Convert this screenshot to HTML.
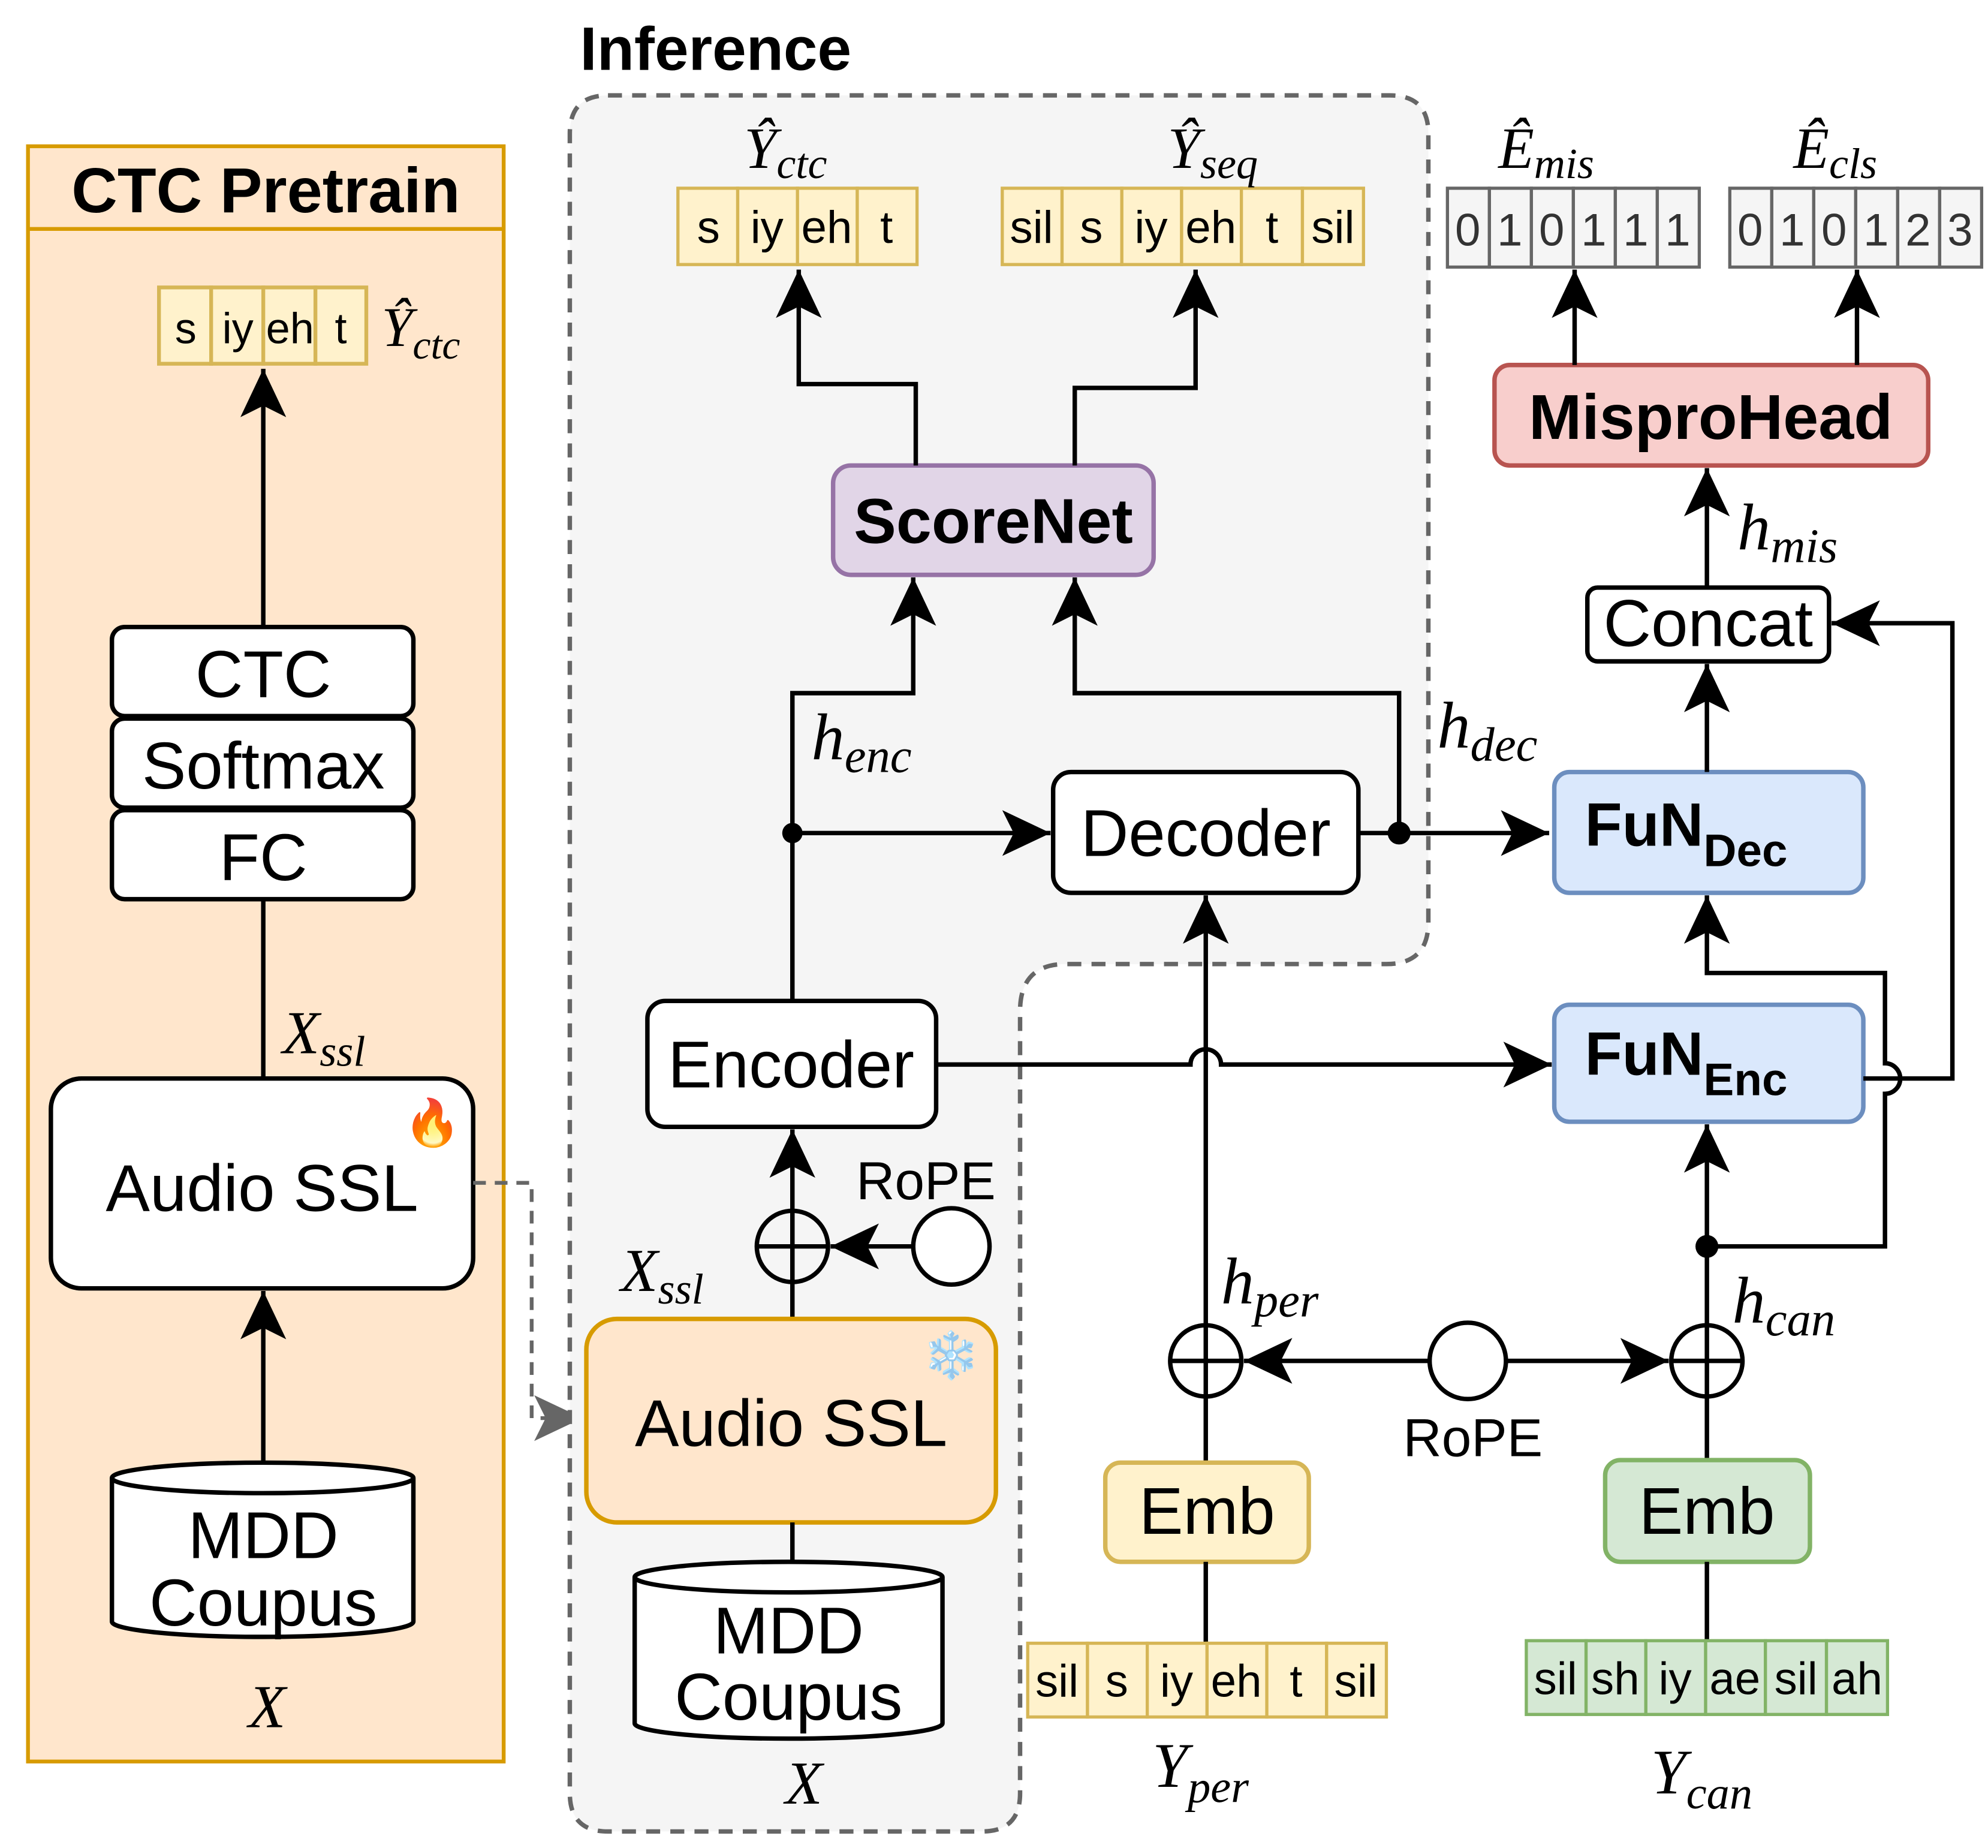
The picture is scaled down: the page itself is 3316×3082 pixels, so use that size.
<!DOCTYPE html>
<html><head><meta charset="utf-8"><style>
html,body{margin:0;padding:0;background:#fff}
svg{display:block}
text{font-family:"Liberation Sans",sans-serif}
.m{font-family:"Liberation Serif",serif;font-style:italic}
</style></head><body>
<svg width="3316" height="3082" viewBox="0 0 1563 1453" preserveAspectRatio="none" xmlns="http://www.w3.org/2000/svg">
<defs>
<marker id="a" markerUnits="userSpaceOnUse" markerWidth="44" markerHeight="44" refX="38" refY="18" orient="auto">
<path d="M0,0 L38,18 L0,36 L9,18 Z" fill="#000"/>
</marker>
<marker id="g" markerUnits="userSpaceOnUse" markerWidth="44" markerHeight="44" refX="38" refY="18" orient="auto">
<path d="M0,0 L38,18 L0,36 L9,18 Z" fill="#666"/>
</marker>
</defs>
<rect width="1563" height="1453" fill="#fff"/>

<!-- CTC Pretrain -->
<rect x="22" y="115" width="374" height="1270" fill="#ffe6cc" stroke="#d79b00" stroke-width="3"/>
<line x1="22" y1="180" x2="396" y2="180" stroke="#d79b00" stroke-width="3"/>
<text x="209" y="167" font-size="50" font-weight="bold" text-anchor="middle">CTC Pretrain</text>
<g stroke="#d6b656" stroke-width="3" fill="#fff2cc">
<rect x="125" y="226" width="41" height="60"/><rect x="166" y="226" width="41" height="60"/><rect x="207" y="226" width="41" height="60"/><rect x="248" y="226" width="40" height="60"/>
</g>
<g font-size="34" text-anchor="middle"><text x="146" y="270">s</text><text x="187" y="270">iy</text><text x="228" y="270">eh</text><text x="268" y="270">t</text></g>
<text x="300" y="272" class="m" font-size="44">Ŷ<tspan dy="10" font-size="32">ctc</tspan></text>
<line x1="207" y1="493" x2="207" y2="290" stroke="#000" stroke-width="3.5" marker-end="url(#a)"/>
<g stroke="#000" stroke-width="3.5" fill="#fff">
<rect x="88" y="493" width="237" height="70" rx="10"/><rect x="88" y="565" width="237" height="70" rx="10"/><rect x="88" y="637" width="237" height="70" rx="10"/>
</g>
<g font-size="52" text-anchor="middle"><text x="207" y="548">CTC</text><text x="207" y="620">Softmax</text><text x="207" y="692">FC</text></g>
<line x1="207" y1="707" x2="207" y2="848" stroke="#000" stroke-width="3.5"/>
<text x="222" y="828" class="m" font-size="48">X<tspan dy="10" font-size="34">ssl</tspan></text>
<rect x="40" y="848" width="332" height="165" rx="24" fill="#fff" stroke="#000" stroke-width="3.5"/>
<text x="206" y="952" font-size="52" text-anchor="middle">Audio SSL</text>
<text x="340" y="895" font-size="36" text-anchor="middle">🔥</text>
<line x1="207" y1="1150" x2="207" y2="1015" stroke="#000" stroke-width="3.5" marker-end="url(#a)"/>
<path d="M88,1162 L88,1275 A118.5,12 0 0 0 325,1275 L325,1162 A118.5,12 0 0 0 88,1162 A118.5,12 0 0 0 325,1162" fill="#fff" stroke="#000" stroke-width="3.5"/>
<g font-size="52" text-anchor="middle"><text x="207" y="1225">MDD</text><text x="207" y="1278">Coupus</text></g>
<text x="210" y="1358" class="m" font-size="48" text-anchor="middle">X</text>
<path d="M372,930 L418,930 L418,1115 L458,1115" fill="none" stroke="#666" stroke-width="3" stroke-dasharray="10,7" marker-end="url(#g)"/>

<!-- Inference region -->
<path d="M478,75 L1093,75 Q1123,75 1123,105 L1123,725 Q1123,758 1090,758 L838,758 Q802,758 802,795 L802,1410 Q802,1440 772,1440 L478,1440 Q448,1440 448,1410 L448,105 Q448,75 478,75 Z" fill="#f5f5f5" stroke="#666" stroke-width="3.5" stroke-dasharray="11,8"/>
<text x="456" y="55" font-size="48" font-weight="bold">Inference</text>

<text x="585" y="132" class="m" font-size="46">Ŷ<tspan dy="8" font-size="34">ctc</tspan></text>
<g stroke="#d6b656" stroke-width="2.5" fill="#fff2cc">
<rect x="533" y="148" width="47" height="60"/><rect x="580" y="148" width="47" height="60"/><rect x="627" y="148" width="47" height="60"/><rect x="674" y="148" width="47" height="60"/>
<rect x="788" y="148" width="47" height="60"/><rect x="835" y="148" width="47" height="60"/><rect x="882" y="148" width="47" height="60"/><rect x="929" y="148" width="47" height="60"/><rect x="976" y="148" width="48" height="60"/><rect x="1024" y="148" width="48" height="60"/>
</g>
<g font-size="36" text-anchor="middle">
<text x="557" y="191">s</text><text x="603" y="191">iy</text><text x="650" y="191">eh</text><text x="697" y="191">t</text>
<text x="811" y="191">sil</text><text x="858" y="191">s</text><text x="905" y="191">iy</text><text x="952" y="191">eh</text><text x="1000" y="191">t</text><text x="1048" y="191">sil</text>
</g>
<text x="918" y="132" class="m" font-size="46">Ŷ<tspan dy="8" font-size="34">seq</tspan></text>

<rect x="655" y="366" width="252" height="86" rx="14" fill="#e1d5e7" stroke="#9673a6" stroke-width="3.5"/>
<text x="781" y="427" font-size="50" font-weight="bold" text-anchor="middle">ScoreNet</text>
<g fill="none" stroke="#000" stroke-width="3.5">
<path d="M720,366 L720,302 L628,302 L628,212" marker-end="url(#a)"/>
<path d="M845,366 L845,305 L940,305 L940,212" marker-end="url(#a)"/>
<path d="M623,787 L623,545 L718,545 L718,454" marker-end="url(#a)"/>
<path d="M623,655 L826,655" marker-end="url(#a)"/>
<path d="M1068,655 L1218,655" marker-end="url(#a)"/>
<path d="M1100,655 L1100,545 L845,545 L845,454" marker-end="url(#a)"/>
</g>
<circle cx="623" cy="655" r="8"/><circle cx="1100" cy="655" r="9"/>
<text x="638" y="597" class="m" font-size="52">h<tspan dy="10" font-size="38">enc</tspan></text>
<text x="1130" y="588" class="m" font-size="52">h<tspan dy="10" font-size="38">dec</tspan></text>
<rect x="828" y="607" width="240" height="95" rx="14" fill="#fff" stroke="#000" stroke-width="3.5"/>
<text x="948" y="673" font-size="52" text-anchor="middle">Decoder</text>

<rect x="509" y="787" width="227" height="99" rx="14" fill="#fff" stroke="#000" stroke-width="3.5"/>
<text x="622" y="855" font-size="52" text-anchor="middle">Encoder</text>
<path d="M736,837 L936,837 A12,12 0 0 1 960,837 L1220,837" fill="none" stroke="#000" stroke-width="3.5" marker-end="url(#a)"/>
<line x1="623" y1="1037" x2="623" y2="888" stroke="#000" stroke-width="3.5" marker-end="url(#a)"/>
<circle cx="623" cy="980" r="28" fill="none" stroke="#000" stroke-width="3.5"/>
<line x1="595" y1="980" x2="651" y2="980" stroke="#000" stroke-width="3.5"/>
<circle cx="748" cy="980" r="30" fill="#fff" stroke="#000" stroke-width="3.5"/>
<line x1="718" y1="980" x2="653" y2="980" stroke="#000" stroke-width="3.5" marker-end="url(#a)"/>
<text x="728" y="943" font-size="42" text-anchor="middle">RoPE</text>
<text x="488" y="1015" class="m" font-size="48">X<tspan dy="10" font-size="34">ssl</tspan></text>
<rect x="461" y="1037" width="322" height="160" rx="24" fill="#ffe6cc" stroke="#d79b00" stroke-width="3.5"/>
<text x="622" y="1137" font-size="52" text-anchor="middle">Audio SSL</text>
<text x="748" y="1078" font-size="36" text-anchor="middle">❄️</text>
<line x1="623" y1="1197" x2="623" y2="1230" stroke="#000" stroke-width="3.5"/>
<path d="M499,1240 L499,1355 A121,12 0 0 0 741,1355 L741,1240 A121,12 0 0 0 499,1240 A121,12 0 0 0 741,1240" fill="#fff" stroke="#000" stroke-width="3.5"/>
<g font-size="52" text-anchor="middle"><text x="620" y="1300">MDD</text><text x="620" y="1352">Coupus</text></g>
<text x="632" y="1418" class="m" font-size="48" text-anchor="middle">X</text>

<!-- right side -->
<line x1="948" y1="1042" x2="948" y2="704" stroke="#000" stroke-width="3.5" marker-end="url(#a)"/>
<circle cx="948" cy="1070" r="28" fill="none" stroke="#000" stroke-width="3.5"/>
<line x1="920" y1="1070" x2="976" y2="1070" stroke="#000" stroke-width="3.5"/>
<line x1="948" y1="1042" x2="948" y2="1098" stroke="#000" stroke-width="3.5"/>
<line x1="623" y1="952" x2="623" y2="1008" stroke="#000" stroke-width="3.5"/>
<text x="960" y="1025" class="m" font-size="52">h<tspan dy="10" font-size="38">per</tspan></text>
<line x1="948" y1="1098" x2="948" y2="1150" stroke="#000" stroke-width="3.5"/>
<rect x="869" y="1150" width="160" height="78" rx="12" fill="#fff2cc" stroke="#d6b656" stroke-width="3.5"/>
<text x="949" y="1206" font-size="52" text-anchor="middle">Emb</text>
<line x1="948" y1="1228" x2="948" y2="1292" stroke="#000" stroke-width="3.5"/>
<g stroke="#d6b656" stroke-width="2.5" fill="#fff2cc">
<rect x="808" y="1292" width="47" height="58"/><rect x="855" y="1292" width="47" height="58"/><rect x="902" y="1292" width="47" height="58"/><rect x="949" y="1292" width="47" height="58"/><rect x="996" y="1292" width="47" height="58"/><rect x="1043" y="1292" width="47" height="58"/>
</g>
<g font-size="36" text-anchor="middle"><text x="831" y="1334">sil</text><text x="878" y="1334">s</text><text x="925" y="1334">iy</text><text x="972" y="1334">eh</text><text x="1019" y="1334">t</text><text x="1066" y="1334">sil</text></g>
<text x="906" y="1405" class="m" font-size="50">Y<tspan dy="12" font-size="36">per</tspan></text>

<circle cx="1154" cy="1070" r="30" fill="#fff" stroke="#000" stroke-width="3.5"/>
<line x1="1124" y1="1070" x2="978" y2="1070" stroke="#000" stroke-width="3.5" marker-end="url(#a)"/>
<line x1="1184" y1="1070" x2="1312" y2="1070" stroke="#000" stroke-width="3.5" marker-end="url(#a)"/>
<text x="1158" y="1145" font-size="42" text-anchor="middle">RoPE</text>
<circle cx="1342" cy="1070" r="28" fill="none" stroke="#000" stroke-width="3.5"/>
<line x1="1314" y1="1070" x2="1370" y2="1070" stroke="#000" stroke-width="3.5"/>
<line x1="1342" y1="1042" x2="1342" y2="1098" stroke="#000" stroke-width="3.5"/>
<line x1="1342" y1="1042" x2="1342" y2="884" stroke="#000" stroke-width="3.5" marker-end="url(#a)"/>
<circle cx="1342" cy="980" r="9"/>
<path d="M1342,980 L1482,980 L1482,860 A12,12 0 0 0 1482,836 L1482,765 L1342,765 L1342,704" fill="none" stroke="#000" stroke-width="3.5" marker-end="url(#a)"/>
<text x="1362" y="1040" class="m" font-size="52">h<tspan dy="10" font-size="38">can</tspan></text>
<line x1="1342" y1="1098" x2="1342" y2="1148" stroke="#000" stroke-width="3.5"/>
<rect x="1262" y="1148" width="161" height="80" rx="12" fill="#d5e8d4" stroke="#82b366" stroke-width="3.5"/>
<text x="1342" y="1206" font-size="52" text-anchor="middle">Emb</text>
<line x1="1342" y1="1228" x2="1342" y2="1290" stroke="#000" stroke-width="3.5"/>
<g stroke="#82b366" stroke-width="2.5" fill="#d5e8d4">
<rect x="1200" y="1290" width="47" height="58"/><rect x="1247" y="1290" width="47" height="58"/><rect x="1294" y="1290" width="47" height="58"/><rect x="1341" y="1290" width="47" height="58"/><rect x="1388" y="1290" width="48" height="58"/><rect x="1436" y="1290" width="48" height="58"/>
</g>
<g font-size="36" text-anchor="middle"><text x="1223" y="1332">sil</text><text x="1270" y="1332">sh</text><text x="1317" y="1332">iy</text><text x="1364" y="1332">ae</text><text x="1412" y="1332">sil</text><text x="1460" y="1332">ah</text></g>
<text x="1298" y="1410" class="m" font-size="50">Y<tspan dy="12" font-size="36">can</tspan></text>

<rect x="1222" y="790" width="243" height="92" rx="12" fill="#dae8fc" stroke="#6c8ebf" stroke-width="3.5"/>
<text x="1246" y="845" font-size="48" font-weight="bold">FuN<tspan dy="16" font-size="36">Enc</tspan></text>
<rect x="1222" y="607" width="243" height="95" rx="12" fill="#dae8fc" stroke="#6c8ebf" stroke-width="3.5"/>
<text x="1246" y="665" font-size="48" font-weight="bold">FuN<tspan dy="16" font-size="36">Dec</tspan></text>
<path d="M1465,848 L1535,848 L1535,490 L1440,490" fill="none" stroke="#000" stroke-width="3.5" marker-end="url(#a)"/>
<line x1="1342" y1="607" x2="1342" y2="522" stroke="#000" stroke-width="3.5" marker-end="url(#a)"/>
<rect x="1248" y="462" width="190" height="58" rx="8" fill="#fff" stroke="#000" stroke-width="3.5"/>
<text x="1343" y="508" font-size="52" text-anchor="middle">Concat</text>
<line x1="1342" y1="462" x2="1342" y2="368" stroke="#000" stroke-width="3.5" marker-end="url(#a)"/>
<text x="1366" y="432" class="m" font-size="52">h<tspan dy="10" font-size="38">mis</tspan></text>
<rect x="1175" y="287" width="341" height="79" rx="12" fill="#f8cecc" stroke="#b85450" stroke-width="3.5"/>
<text x="1345" y="345" font-size="50" font-weight="bold" text-anchor="middle">MisproHead</text>
<line x1="1238" y1="287" x2="1238" y2="212" stroke="#000" stroke-width="3.5" marker-end="url(#a)"/>
<line x1="1460" y1="287" x2="1460" y2="212" stroke="#000" stroke-width="3.5" marker-end="url(#a)"/>
<g stroke="#666" stroke-width="2.5" fill="#f5f5f5">
<rect x="1138" y="148" width="33" height="62"/><rect x="1171" y="148" width="33" height="62"/><rect x="1204" y="148" width="33" height="62"/><rect x="1237" y="148" width="33" height="62"/><rect x="1270" y="148" width="33" height="62"/><rect x="1303" y="148" width="33" height="62"/>
<rect x="1360" y="148" width="33" height="62"/><rect x="1393" y="148" width="33" height="62"/><rect x="1426" y="148" width="33" height="62"/><rect x="1459" y="148" width="33" height="62"/><rect x="1492" y="148" width="33" height="62"/><rect x="1525" y="148" width="33" height="62"/>
</g>
<g font-size="36" text-anchor="middle" fill="#333">
<text x="1154" y="193">0</text><text x="1187" y="193">1</text><text x="1220" y="193">0</text><text x="1253" y="193">1</text><text x="1286" y="193">1</text><text x="1319" y="193">1</text>
<text x="1376" y="193">0</text><text x="1409" y="193">1</text><text x="1442" y="193">0</text><text x="1475" y="193">1</text><text x="1508" y="193">2</text><text x="1541" y="193">3</text>
</g>
<text x="1178" y="132" class="m" font-size="46">Ê<tspan dy="8" font-size="34">mis</tspan></text>
<text x="1410" y="132" class="m" font-size="46">Ê<tspan dy="8" font-size="34">cls</tspan></text>
</svg>
</body></html>
